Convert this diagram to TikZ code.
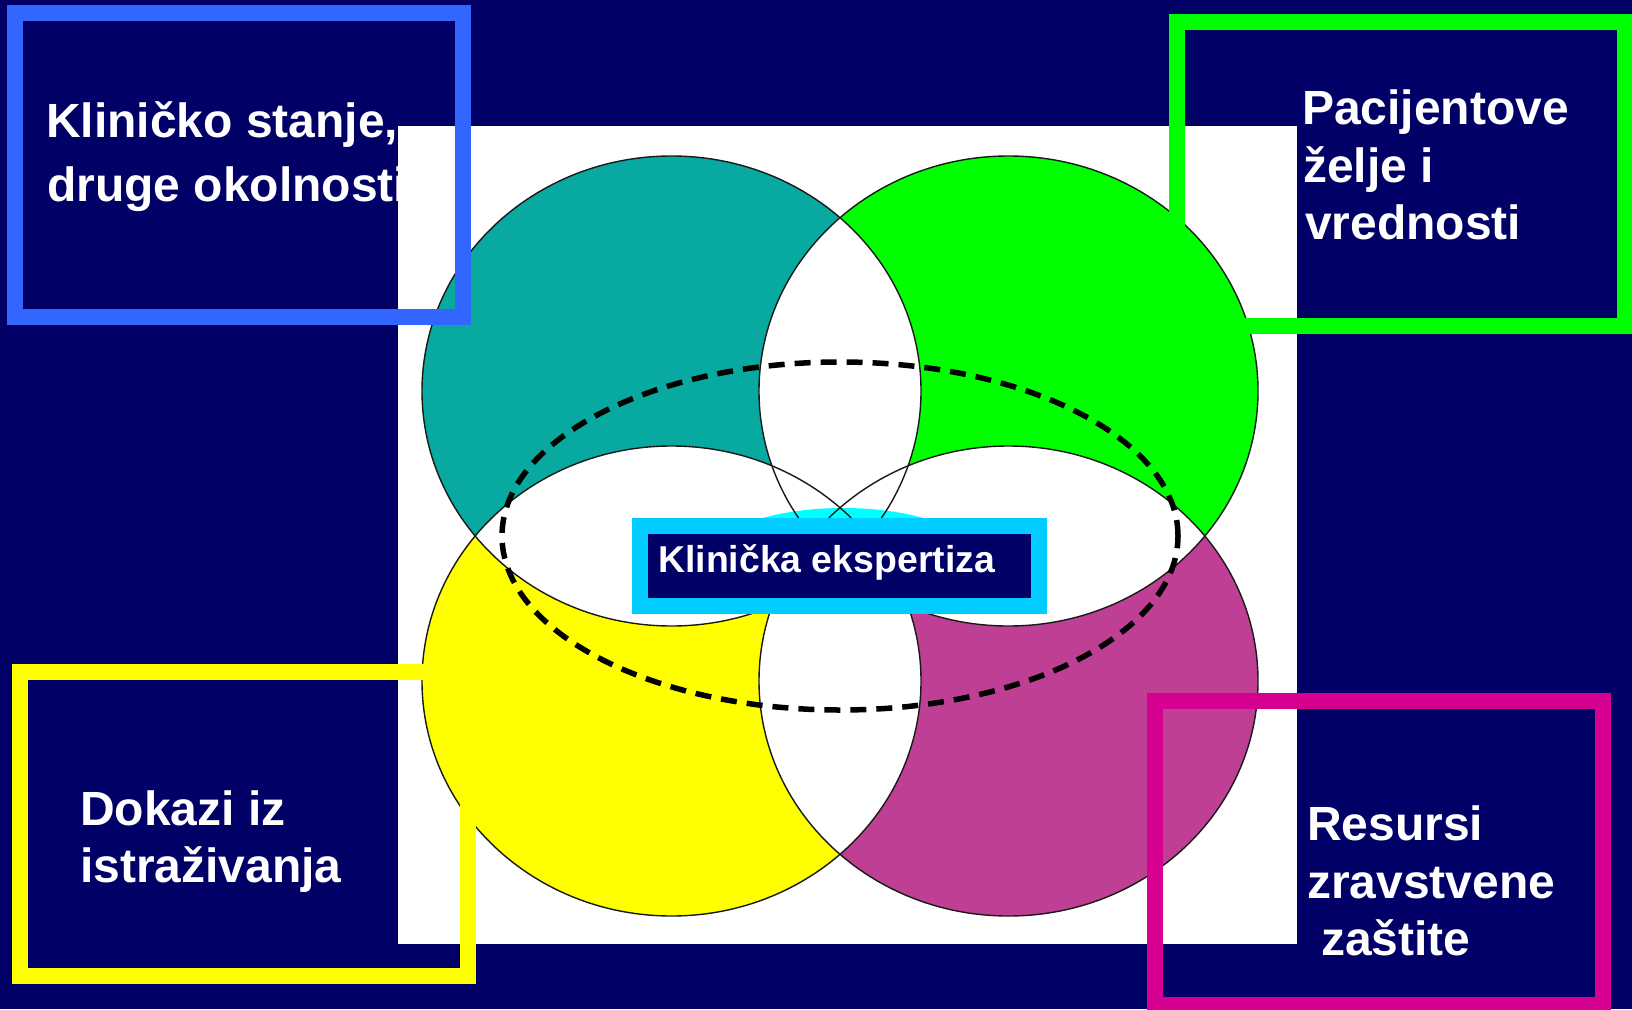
\documentclass[tikz,border=0pt]{standalone}
\usepackage{fontspec}
\setmainfont{Liberation Sans}
\definecolor{navy}{HTML}{000066}
\definecolor{boxblue}{HTML}{3366FF}
\definecolor{boxgreen}{HTML}{00FF00}
\definecolor{boxyellow}{HTML}{FFFF00}
\definecolor{boxmag}{HTML}{D5008F}
\definecolor{cteal}{HTML}{07A9A0}
\definecolor{cgreen}{HTML}{00FF00}
\definecolor{cyellow}{HTML}{FFFF00}
\definecolor{cmag}{HTML}{BF3F94}
\definecolor{boxcyan}{HTML}{00CCFF}
\definecolor{glowcyan}{HTML}{00FFFF}
\def\ellTL{(671.5,391) ellipse [x radius=249.5pt, y radius=235pt]}
\def\ellTR{(1008.5,391) ellipse [x radius=249.5pt, y radius=235pt]}
\def\ellBL{(671.5,681) ellipse [x radius=249.5pt, y radius=235pt]}
\def\ellBR{(1008.5,681) ellipse [x radius=249.5pt, y radius=235pt]}
\begin{document}
\begin{tikzpicture}[x=1pt,y=-1pt,
  lbl/.style={anchor=base west, inner sep=0pt, text=white, font=\bfseries\fontsize{48}{56}\selectfont},
  smalllbl/.style={anchor=base west, inner sep=0pt, text=white, font=\bfseries\fontsize{37.4}{44}\selectfont},
  framebox/.style={line width=16pt},
  outline/.style={draw=black!90, line width=1.4pt},
  dashring/.style={draw=black, line width=5.5pt, dash pattern=on 16pt off 10pt}]
\useasboundingbox (0,0) rectangle (1632,1009);
\fill[navy] (0,0) rectangle (1632,1009);
\fill[white] (398,126) rectangle (1297,944);
% coloured ellipses
\fill[cteal] \ellTL;
\fill[cgreen] \ellTR;
\fill[cyellow] \ellBL;
\fill[cmag] \ellBR;
% white overlaps
\begin{scope}\clip \ellTL; \fill[white] \ellTR; \fill[white] \ellBL; \fill[white] \ellBR; \end{scope}
\begin{scope}\clip \ellTR; \fill[white] \ellBL; \fill[white] \ellBR; \end{scope}
\begin{scope}\clip \ellBL; \fill[white] \ellBR; \end{scope}
% cyan glow behind the box
\fill[glowcyan] (843,560) ellipse [x radius=136pt, y radius=52pt];
% outlines
\path[outline] \ellTL;
\path[outline] \ellTR;
\path[outline] \ellBL;
\path[outline] \ellBR;
% dashed ellipse
\path[dashring] (840,536) ellipse [x radius=338pt, y radius=174pt];
% frames
\draw[framebox, boxblue] (15,13) rectangle (463,317);
\draw[framebox, boxgreen] (1177,22) rectangle (1625,326);
\draw[framebox, boxyellow] (20,672) rectangle (468,976);
\draw[framebox, boxmag] (1155,701) rectangle (1603,1005);
\draw[framebox, boxcyan, fill=navy] (640,526) rectangle (1039,606);
% texts
\node[lbl] (tl1) at (46,137) {Kliničko stanje,};
\node[lbl] (tl2) at (47,201) {druge okolnosti};
\node[lbl] (tr1) at (1302,124) {Pacijentove};
\node[lbl] (tr2) at (1303,182) {želje i};
\node[lbl] (tr3) at (1305,239) {vrednosti};
\node[lbl] (bl1) at (80,825) {Dokazi iz};
\node[lbl] (bl2) at (80,882) {istraživanja};
\node[lbl] (br1) at (1307,840) {Resursi};
\node[lbl] (br2) at (1307,898) {zravstvene};
\node[lbl] (br3) at (1321,955) {zaštite};
\node[smalllbl] (ce) at (658,572) {Klinička ekspertiza};
\end{tikzpicture}
\end{document}
